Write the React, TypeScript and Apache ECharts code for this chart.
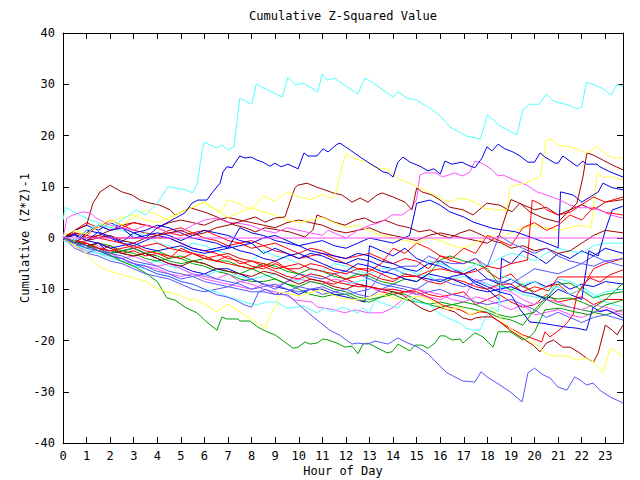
import React, { useEffect, useRef } from "react";
import * as echarts from "echarts";

// ---------- text ----------
const TITLE = "Cumulative Z-Squared Value";
const X_NAME = "Hour of Day";
const Y_NAME = "Cumulative (Z*Z)-1";

// ---------- axes ----------
const X_MIN = 0;
const X_MAX = 23.75;
const X_STEP = 1;
const Y_MIN = -40;
const Y_MAX = 40;
const Y_STEP = 10;

// ---------- colours ----------
const RED = "#ff0000";
const GREEN = "#00a000";
const BLUE = "#0000ee";
const MAGENTA = "#ff50ff";
const CYAN = "#50ffff";
const DARKRED = "#a00000";
const YELLOW = "#ffff40";
const SLATE = "#5555ff";

// ---------- series values: [hour, cumulative value] ----------
const C1 = [[0,0.4],[0.5,-0.5],[1,1.5],[1.5,2.5],[2,2],[2.5,3.5],[3.1,5.5],[3.5,4.5],[4.0,6.8],[4.45,10],[5.2,9.4],[5.5,8.8],[5.7,10.7],[5.9,17.2],[6.0,18.7],[6.5,17.6],[6.75,18.1],[7.0,17.2],[7.25,17.8],[7.5,27.3],[8.0,26.1],[8.2,30.0],[9.3,27.5],[9.54,31.4],[9.84,29.9],[10.2,30.2],[10.8,28.5],[11.0,32.0],[11.2,30.8],[11.5,31.2],[12.5,28.1],[12.8,31.2],[13.1,30.4],[14.0,27.5],[14.2,28.5],[14.6,27.3],[15.0,26.9],[15.6,25.2],[16.0,23.8],[16.4,21.7],[17.1,19.9],[17.7,19.3],[18.0,24.0],[18.5,22.0],[19.25,20.1],[19.5,25.0],[19.8,26.1],[20.2,26.1],[20.5,28.1],[20.8,26.7],[21.4,26.0],[21.8,25.2],[22.0,25.6],[22.2,30.4],[22.65,29.7],[22.9,29.1],[23.25,27.9],[23.5,30.0],[23.75,29.5]];
const C2 = [[0,-0.5],[0.5,-1.5],[1,-2],[1.5,-3],[2,-3.5],[2.5,-4.5],[3,-5.5],[3.5,-6],[4,-7],[4.5,-7.5],[5,-8.5],[5.5,-9],[6,-10],[6.5,-10.5],[7,-11.5],[7.3,-11.9],[7.72,-12.5],[8.2,-13.1],[8.6,-12.5],[9.08,-12.5],[9.5,-13.7],[10.2,-13.3],[10.77,-14.6],[11.1,-13.7],[11.45,-14.4],[11.83,-13.5],[12.51,-14.6],[12.72,-13.7],[13.0,-14.6],[13.23,-12.1],[13.78,-13.1],[14.2,-13.7],[14.42,-12.7],[14.63,-11.5],[15.0,-12.5],[15.56,-13.1],[15.9,-14.6],[16.3,-15.6],[16.84,-16.6],[17.1,-17.6],[17.39,-18.0],[17.68,-18.0],[17.9,-15.6],[18.2,-13.5],[18.45,-14.4],[18.6,-7.4],[19,-8],[19.5,-9],[20,-8.5],[20.5,-10],[21,-9.5],[21.5,-11],[22,-10],[22.5,-11.5],[23,-10.5],[23.75,-10]];
const C3 = [[0,3.5],[0.1,6],[0.4,5.2],[0.7,4.5],[1.15,3.5],[1.5,3],[2,2],[2.5,1.5],[3,0.5],[3.5,1],[4,-1],[4.5,-1.5],[5,-2.5],[5.5,-1],[6,-1.5],[6.5,-2.5],[7,-3],[7.5,-4],[8,-4.5],[8.5,-2.5],[9,-3.5],[9.5,-4],[10,-5],[10.5,-6],[11,-6.5],[11.5,-5],[12,-5.5],[12.5,-6.5],[13,-7],[13.5,-6],[14,-6],[14.5,-7],[15,-7.5],[15.5,-4.5],[16,-5],[16.5,-6],[17,-6.5],[17.5,-5],[18,-5.5],[18.5,-4],[19,-3],[19.5,-3.5],[20,-4.5],[20.5,-3],[21,-2],[21.5,-2.5],[22,-3],[22.5,-1.5],[23,-1],[23.75,-1]];
const C4 = [[0,0],[0.5,-1],[1,-2.5],[1.5,-3],[2,-4],[2.5,-4.5],[3,-5.5],[3.5,-5],[4,-4.5],[4.5,-5.5],[5,-6],[5.5,-7],[6,-7.5],[6.5,-6.5],[7,-6.5],[7.5,-7.5],[8,-8],[8.5,-7.5],[9,-7],[9.5,-8],[10,-8.5],[10.5,-7],[11,-7.5],[11.5,-8.5],[12,-9],[12.5,-8.5],[13,-8],[13.5,-9],[14,-9.5],[14.5,-6],[15,-7],[15.5,-7.5],[16,-8.5],[16.5,-8],[17,-7.5],[17.5,-8.5],[18,-9],[18.5,-9.5],[19,-10],[19.5,-11],[20,-11.5],[20.5,-12],[21,-8],[21.5,-8.5],[22,-9.5],[22.5,-11],[23,-12.5],[23.75,-13.5]];

const B1 = [[0,-0.3],[0.5,0.8],[1,-0.5],[1.5,1.2],[2,0.3],[2.5,-0.8],[3,1],[3.5,0],[4,2],[4.5,3.2],[5.17,4.9],[5.47,6.8],[5.72,7.4],[6.1,7.4],[6.32,8.8],[6.66,10.7],[6.79,12.9],[6.95,13.9],[7.17,13.7],[7.29,14.6],[7.5,16.0],[7.72,15.6],[7.97,15.8],[8.23,15.2],[8.48,14.8],[8.78,14.0],[8.99,14.6],[9.25,13.9],[9.54,14.4],[9.97,13.5],[10.22,16.6],[10.39,16.0],[10.77,16.0],[11.03,17.4],[11.24,16.8],[11.62,18.3],[11.75,18.5],[12.17,17.2],[12.6,15.8],[12.93,14.8],[13.32,13.7],[13.57,12.9],[13.78,12.7],[14.0,11.9],[14.2,14.8],[14.42,15.8],[14.72,14.8],[15.14,14.0],[15.48,13.1],[15.73,13.5],[16.0,12.5],[16.2,15.0],[16.5,14.4],[16.92,14.8],[17.18,14.2],[17.47,13.7],[17.77,15.6],[17.98,17.8],[18.19,17.0],[18.45,18.3],[18.74,17.4],[19.08,16.8],[19.38,16.0],[19.72,14.8],[20.0,14.8],[20.23,16.6],[20.44,15.8],[20.87,14.6],[21.0,14.6],[21.2,16.0],[21.5,15.0],[21.8,14.0],[22.05,15.0],[22.2,14.4],[22.65,14.4],[22.77,13.9],[23.2,12.9],[23.75,11.9]];
const B2 = [[0,0],[0.5,-1],[1,1],[1.5,2.5],[2,1.5],[2.5,2],[3,0],[3.5,0.5],[4,1],[4.5,0.5],[5,-0.5],[5.5,0.5],[6,1.5],[6.5,1],[7,0.5],[7.5,-0.5],[8,-1],[8.5,0],[9,0.5],[9.5,-0.5],[10,-1.5],[10.5,-1],[11,-0.5],[11.5,-1.5],[12,-2],[12.5,-1],[13,0],[13.5,-0.5],[14,-1],[14.7,0.5],[15,6.8],[15.56,7.4],[16,6.4],[16.4,5.1],[17,4.1],[17.4,3.1],[17.8,2.5],[18.2,1.9],[18.6,1.6],[19.2,1.2],[19.8,0.2],[20.4,-0.8],[21,-1.9],[21.1,9.0],[21.63,8.4],[22,7.0],[22.35,8.0],[22.7,9.0],[22.9,10.7],[23.3,9.8],[23.75,9.4]];
const B3 = [[0,0],[0.5,-0.5],[1,-1.5],[1.5,-1],[2,-3],[2.5,-2.5],[3,-2],[3.5,-3],[4,-4],[4.5,-5],[5,-5.5],[5.5,-6.5],[6,-7],[6.5,-6],[7,-6],[7.5,-7],[8,-8],[8.5,-9],[9,-9.5],[9.5,-10],[10,-11],[10.5,-10],[11,-10],[11.5,-11],[12,-11.5],[12.4,-12],[12.8,-12.5],[13.0,-1.5],[13.5,-2.5],[14,-3.5],[14.5,-2],[15,-4],[15.56,-5],[16,-4.5],[16.5,-6],[17,-7],[17.5,-6],[18,-8],[18.5,-9],[19,-8],[19.5,-9.5],[20,-8.5],[20.5,-9.5],[21,-8.5],[21.5,-10],[22,-9],[22.5,-9.5],[23,-8.5],[23.75,-9]];
const B4 = [[0,0],[0.5,0.5],[1,-0.5],[1.5,-1],[2,-2],[2.5,-1.5],[3,-1],[3.5,-2],[4,-2.5],[4.5,-2],[5,-1.5],[5.5,-2.5],[6,-3],[6.5,-2.5],[7,-2],[7.5,2],[8,1],[8.5,0.5],[9,-0.5],[9.5,-1],[10,-1.5],[10.5,-2.5],[11,-3],[11.5,-3.5],[12,-4],[12.5,-3],[13,-3.5],[13.5,-4.5],[14,-5],[14.5,-6],[15,-6.5],[15.5,-5],[16,-5.5],[16.5,-6.5],[17,-7],[17.5,-8.5],[18,-9.5],[18.5,-10.5],[19,-11.1],[19.4,-14],[19.8,-16.4],[20.3,-16.6],[20.8,-17.0],[21.37,-17.4],[21.8,-17.6],[22.2,-18.0],[22.35,-15.6],[22.48,-13.5],[22.77,-14.4],[23.07,-14.0],[23.5,-15.0],[23.75,-15.6]];
const B5 = [[0,0],[0.5,1.5],[1,2.5],[1.5,1.5],[2,3],[2.5,2],[3,1],[3.5,1.5],[4,2.5],[4.5,2],[5,1],[5.5,0],[6,-0.5],[6.5,-1],[7,-2],[7.5,-1.5],[8,-1],[8.5,-3],[9,-2],[9.5,-3],[10,-4],[10.5,-3],[11,-3.5],[11.5,-4.5],[12,-5],[12.5,-4],[13,-4.5],[13.5,-5.5],[14,-6],[14.5,-7],[15,-7.5],[15.5,-8],[16,-8.5],[16.5,-7.5],[17,-7],[17.5,-9],[18,-10],[18.5,-12],[18.6,-4],[19,-5],[19.5,-2.5],[20,-3.5],[20.5,-5],[21,-3],[21.5,-4],[22,-2.5],[22.5,-3.5],[23,-2],[23.75,-3]];
const B6 = [[0,0],[0.5,-0.5],[1,1.5],[1.5,1],[2,0],[2.5,-1],[3,-1.5],[3.5,-0.5],[4,0.5],[4.5,0],[5,-1],[5.5,-2],[6,-2.5],[6.5,-2],[7,-1.5],[7.5,-2.5],[8,-3],[8.5,-4],[9,-4.5],[9.5,-3.5],[10,-3],[10.5,-4],[11,-5],[11.5,-6],[12,-6.5],[12.5,-5],[13,-5.5],[13.5,-6.5],[14,-7],[14.5,-8],[15,-8.5],[15.5,-7],[16,-7.5],[16.5,-8],[17,-9],[17.5,-10],[18,-10.5],[18.5,-10],[19,-9.5],[19.5,-10.5],[20,-11],[20.5,-12],[21,-10],[21.5,-11],[22,-12],[22.3,-2.5],[22.7,-3.5],[23,1.5],[23.3,5.5],[23.75,6.2]];

const Y1 = [[0,0.5],[0.5,1.5],[1,0.8],[1.5,2.5],[2,3.5],[2.5,2.5],[3,4],[3.5,5.5],[4,4.5],[4.5,3.5],[5,5],[5.5,6.0],[5.94,7.0],[6.32,5.9],[6.7,5.1],[7,7.5],[7.5,6.6],[8,5.5],[8.5,8.2],[9,7.2],[9.5,9.0],[10,8.0],[10.5,7.5],[11,8.5],[11.4,7.8],[11.6,9.0],[11.75,12.5],[12.0,16.6],[12.3,15.6],[12.9,14.8],[13.15,13.9],[13.44,13.5],[13.74,13.5],[14.0,12.5],[14.25,11.5],[14.72,10.7],[15.14,9.75],[15.56,8.8],[16.0,7.8],[16.41,7.0],[16.84,7.8],[17.26,7.4],[17.68,6.4],[17.81,5.9],[18.3,5.5],[18.83,5.5],[18.96,10.0],[19.6,10.7],[20.23,11.9],[20.44,17.2],[20.48,19.1],[20.7,19.3],[21.0,18.1],[21.5,17.8],[22.22,16.6],[22.65,17.8],[23.07,16.2],[23.32,15.6],[23.75,15.6]];
const Y2 = [[0,0],[0.5,-1.5],[1,-3],[1.5,-5.5],[2,-6.5],[2.5,-7.2],[3,-7.8],[3.5,-8.4],[4,-9.8],[4.5,-10.7],[4.96,-11.1],[5.3,-12.1],[5.51,-11.9],[5.94,-12.7],[6.53,-14.4],[7.0,-12.9],[7.38,-14.0],[7.8,-15.4],[8.0,-15.8],[8.57,-17.6],[8.69,-16.0],[9.08,-12.7],[9.2,-10.5],[10.05,-11.3],[10.9,-10.1],[11.75,-11.7],[12.6,-12.1],[13.44,-10.9],[14.3,-12.1],[15.14,-11.3],[15.56,-12.1],[16.1,-13.5],[16.33,-14.0],[16.84,-13.5],[17.26,-15.0],[17.77,-14.0],[17.98,-13.1],[18.24,-14.0],[18.96,-17.6],[19.5,-19.3],[20.1,-20.9],[20.44,-22.4],[20.74,-23.0],[21.37,-23.0],[21.8,-23.8],[22.22,-23.4],[22.56,-24.4],[22.9,-26.3],[23.2,-21.5],[23.5,-22.2],[23.75,-23.2]];
const Y3 = [[0,0],[0.5,0.5],[1,1],[1.5,2],[2,3],[2.5,4],[3,4.5],[3.5,3.5],[4,3],[4.5,4],[5,5],[5.5,6],[6,7],[6.4,5.8],[7,4],[7.5,5],[8,6],[8.5,5],[9,4.5],[9.5,3.5],[10,3],[10.5,3.5],[11,4],[11.5,3],[12,2],[12.5,2.5],[13,1.5],[13.5,0.5],[14,0],[14.5,-0.5],[15,-1],[15.5,0],[16,-0.5],[16.5,-1.5],[17,-2],[17.5,-1],[18,0.5],[18.5,0],[19,1],[19.5,2],[20,2.5],[20.5,2],[21,1.5],[21.5,2],[22,2.5],[22.4,2],[22.65,12.7],[22.9,11.9],[23.3,11.9],[23.75,11.3]];

const M0 = [[0,0],[23.75,0]];
const M1 = [[0,0],[0.17,3.9],[0.42,4.5],[0.85,5.1],[1.15,4.9],[1.4,3.9],[2,2.5],[2.5,2],[3,1.5],[3.5,2.5],[4,2],[4.5,1],[5,1.2],[5.5,2.5],[6,3.5],[6.53,3.9],[6.95,3.1],[7.4,2.9],[7.93,2.5],[8.5,1.5],[9,1],[9.5,2],[10,1.5],[10.5,1],[11,0.5],[11.24,1.5],[11.6,0.8],[12,0],[12.5,1.5],[13,2.5],[13.36,2.9],[13.65,3.5],[13.95,4.5],[14.38,4.5],[14.8,5.9],[15.0,7.6],[15.14,12.3],[15.35,12.7],[15.8,12.7],[16.1,11.9],[16.6,12.7],[16.96,12.1],[17.26,12.9],[17.47,15.0],[17.68,14.8],[17.9,14.2],[18.2,13.3],[18.45,12.1],[18.66,12.3],[19.04,11.5],[19.68,10.3],[20.1,9.0],[20.5,8.4],[21.08,7.4],[21.5,6.4],[21.93,5.9],[22.35,5.9],[22.77,5.5],[23.2,4.5],[23.75,3.9]];
const M2 = [[0,0],[0.5,-1],[1,-2],[1.5,-1.5],[2,-3],[2.5,-4],[3,-3.5],[3.5,-4.5],[4,-5.5],[4.5,-5],[5,-6],[5.5,-7],[6,-7.5],[6.5,-8],[7,-7],[7.5,-8.5],[8,-9],[8.5,-10],[9,-10.5],[9.41,-11.1],[9.84,-12.1],[10.56,-12.5],[10.8,-13.5],[11.4,-13.9],[11.96,-14.6],[12.38,-14.0],[12.93,-14.6],[13.53,-14.6],[13.95,-13.7],[14.38,-12.1],[14.63,-11.3],[15,-10],[15.5,-10.5],[16,-11],[16.5,-12],[17,-12.5],[17.5,-11.5],[18,-12],[18.5,-13],[19,-14],[19.5,-13],[20,-15],[20.5,-14.5],[21,-14],[21.5,-15],[22,-15.5],[22.5,-14.5],[23,-14],[23.75,-15]];
const M3 = [[0,0],[0.5,-1.5],[1,-2.5],[1.5,-3],[2,-3.5],[2.5,-4.5],[3,-5],[3.5,-5.5],[4,-6],[4.5,-7],[5,-7.5],[5.5,-7],[6,-8],[6.5,-8.5],[7,-9],[7.5,-9.5],[8,-10],[8.5,-9],[9,-9.5],[9.5,-8.5],[10,-8],[10.5,-8.5],[11,-9],[11.5,-8],[12,-8.5],[12.5,-9],[13,-9.5],[13.5,-10.5],[14,-10],[14.5,-10.5],[15,-11],[15.5,-11.5],[16,-12],[16.5,-11],[17,-11.5],[17.5,-8],[18,-9],[18.5,-10],[19,-10.5],[19.5,-12],[20,-13],[20.5,-12],[21,-12.5],[21.5,-13.5],[22,-14],[22.5,-13],[23,-13.5],[23.75,-14.5]];

const DR1 = [[0,0],[0.5,1.5],[1,2.5],[1.27,6.8],[1.44,8.0],[1.57,9.0],[2.0,10.3],[2.2,9.75],[2.5,9.0],[2.93,8.4],[3.27,7.4],[3.69,6.8],[4.11,6.4],[4.54,5.5],[4.75,4.5],[4.96,4.9],[5.39,5.9],[5.68,5.5],[6.1,4.9],[6.53,4.1],[6.8,3.5],[7.3,2.5],[7.73,2.0],[8.16,1.2],[8.57,2.0],[9.1,1.6],[9.6,1.2],[10.26,0.2],[10.6,1.6],[10.77,4.5],[11.1,3.9],[11.5,3.1],[11.96,2.5],[12.4,3.5],[12.8,3.9],[13.23,2.9],[13.65,3.5],[14.2,2.5],[14.7,2.0],[15.1,1.2],[15.56,1.6],[16,0.6],[16.4,0],[16.84,1.0],[17.26,1.6],[17.8,0.5],[18.2,-0.5],[18.6,-1],[19,-2],[19.5,-1.5],[20,-2.5],[20.5,-2],[21,-3],[21.5,-2.5],[22,-1],[22.5,0.5],[23,1.5],[23.75,1]];
const DR2 = [[0,0],[0.5,0.8],[1,-0.5],[1.5,0],[2,0.5],[2.5,-0.5],[3,-1],[3.5,0],[4,0.5],[4.5,1],[5,1.5],[5.5,0.5],[6,1],[6.5,2],[7,2.5],[7.73,3.5],[8.16,4.1],[8.57,3.1],[9.0,3.9],[9.41,4.1],[9.83,9.75],[9.95,10.3],[10.35,10.7],[10.77,9.9],[11.1,9.4],[11.45,8.8],[11.83,8.4],[12.26,7.0],[12.6,7.8],[12.93,7.0],[13.32,8.4],[13.53,8.8],[14.0,8.0],[14.5,7.0],[14.8,5.5],[15.0,9.75],[15.22,9.0],[15.65,8.4],[15.99,7.4],[16.41,6.0],[16.96,5.5],[17.39,4.5],[17.98,6.8],[18.53,6.4],[19.04,5.1],[19.38,6.8],[19.8,5.1],[20.36,3.9],[21.0,3.1],[21.37,4.9],[21.8,6.8],[22.05,11.9],[22.22,16.6],[22.48,16.2],[22.9,15.2],[23.32,14.2],[23.75,13.3]];
const DR3 = [[0,0],[0.5,-0.5],[1,-1.5],[1.5,-1],[2,-2],[2.5,-3],[3,-3.5],[3.5,-3],[4,-4],[4.5,-5],[5,-5.5],[5.5,-4.5],[6,-5],[6.5,-6],[7,-6.5],[7.5,-7],[8,-7.5],[8.5,-6.5],[9,-7],[9.5,-8],[10,-9],[10.5,-8],[11,-8.5],[11.5,-9.5],[12,-10],[12.5,-9],[13,-9.5],[13.5,-10],[14,-10.5],[14.4,-11.1],[14.8,-12.5],[15.2,-13.7],[15.56,-14.4],[16.0,-13.5],[16.3,-14.0],[16.6,-14.4],[16.96,-15.6],[17.3,-16.0],[17.5,-15.6],[17.8,-15.4],[18.2,-15.4],[18.53,-16.4],[18.96,-18.0],[19.47,-19.5],[19.93,-20.9],[20.23,-22.2],[20.5,-20.5],[20.8,-19.9],[21.2,-21.3],[21.5,-21.3],[21.84,-22.2],[22.2,-23.4],[22.5,-24.2],[22.7,-22.4],[23.0,-17.0],[23.3,-18.0],[23.5,-18.9],[23.75,-17.0]];
const DR4 = [[0,0],[0.5,1],[1,0],[1.5,0.5],[2,1.5],[2.5,2.5],[3,3],[3.5,2.5],[4,2],[4.5,3],[5,3.5],[5.5,3],[6,2.5],[6.5,3.5],[7,4],[7.5,3.5],[8,3],[8.5,2.5],[9,2],[9.5,3],[10,3.5],[10.5,3],[11,2.5],[11.5,1.5],[12,1],[12.5,1.5],[13,2],[13.5,1],[14,0.5],[14.5,0],[15,-0.5],[15.5,0.5],[16,1],[16.5,0.5],[17,0],[17.5,-0.5],[18,-1],[18.5,0.5],[19,7.5],[19.5,6.5],[20,5.5],[20.5,6],[21,4.5],[21.5,5.5],[22,6.5],[22.5,5.5],[23,7],[23.75,7.5]];

const R1 = [[0,0],[0.5,-0.5],[1,-1],[1.5,-2],[2,-2.5],[2.5,-2],[3,-1.5],[3.5,-2.5],[4,-3],[4.5,-3.5],[5,-4],[5.5,-3],[6,-3.5],[6.5,-4.5],[7,-5],[7.5,-5.5],[8,-6],[8.5,-5.5],[9,-6.5],[9.5,-7.5],[10,-8],[10.5,-7],[11,-7.5],[11.5,-8.5],[12,-9],[12.5,-9.5],[13,-9.5],[13.5,-10],[14,-10],[14.5,-10.5],[15,-10.5],[15.56,-11.7],[16.1,-13.1],[16.4,-13.5],[16.84,-14.0],[17.26,-15.0],[17.68,-14.4],[18.0,-14.6],[18.4,-16.0],[18.96,-17.6],[19.5,-18.9],[20.1,-19.9],[20.3,-20.3],[20.44,-18.3],[20.65,-19.3],[20.95,-18.3],[21.2,-17.4],[21.37,-16.6],[21.63,-15.0],[21.8,-11.1],[22.05,-9.2],[22.35,-7.8],[22.77,-8.6],[23.2,-7.2],[23.75,-6.2]];
const R2 = [[0,0],[0.5,1],[1,0.5],[1.5,2.5],[2,1.5],[2.5,2],[3,3],[3.5,2.5],[4,2],[4.5,1],[5,0.5],[5.5,1],[6,1.5],[6.5,0.5],[7,-0.5],[7.5,-1],[8,-2],[8.5,-1.5],[9,-1],[9.5,-2],[10,-3],[10.5,-2],[11,-2.5],[11.5,-3.5],[12,-4],[12.5,-3.5],[13,-3],[13.5,-4],[14,-5],[14.5,-4],[15,-4.5],[15.5,-6],[16,-3.5],[16.5,-4],[17,-2],[17.5,-3],[18,0.5],[18.5,-0.5],[19,-1.5],[19.5,2],[20,3],[20.5,1.5],[21,2.5],[21.5,4.5],[22,3.5],[22.5,6],[23,5],[23.75,4.5]];
const R3 = [[0,0],[0.5,-1],[1,0.5],[1.5,0],[2,-0.5],[2.5,-1],[3,-2],[3.5,-1.5],[4,-1],[4.5,-2],[5,-2.5],[5.5,-3],[6,-4],[6.5,-3.5],[7,-3],[7.5,-4],[8,-4.5],[8.5,-5],[9,-6],[9.5,-5.5],[10,-5],[10.5,-6],[11,-6.5],[11.5,-7],[12,-8],[12.5,-7.5],[13,-7],[13.5,-8],[14,-8.5],[14.5,-7],[15,-7.5],[15.5,-6.5],[16,-6],[16.5,-6.5],[17,-7],[17.5,-6.5],[18,-5.5],[18.5,-6],[19,-5],[19.7,-4.3],[19.9,7.4],[20.3,6.5],[20.5,5.5],[21,4.5],[21.5,5],[22,6.5],[22.5,8],[23,7],[23.75,8]];
const R4 = [[0,0],[0.5,-1],[1,-0.5],[1.5,0.5],[2,0],[4.5,0],[5,-1],[5.5,-2],[6,-2.5],[6.5,-3],[7,-4],[7.5,-4.5],[8,-5.5],[8.5,-6],[9,-5],[9.5,-6],[10,-7],[10.5,-8],[11,-8.5],[11.5,-9],[12,-8],[12.5,-9],[13,-9.5],[13.5,-10.5],[14,-11],[14.5,-10.5],[15,-10],[15.5,-11],[16,-11.5],[16.5,-11],[17,-10.5],[17.5,-13],[18,-12],[18.5,-11],[19,-12.5],[19.5,-13.5],[20,-13],[20.5,-11],[21,-12.5],[21.5,-12],[22,-11.5],[22.5,-13],[23,-12],[23.75,-12]];
const R5 = [[0,0],[0.5,1.5],[1,3],[1.5,2],[2,3.5],[2.5,2.5],[3,1.5],[3.5,1],[4,0.5],[4.5,1.5],[5,2],[5.5,1],[6,0],[6.5,-0.5],[7,-1.5],[7.5,-1],[8,-0.5],[8.5,-1.5],[9,-2.5],[9.5,-3],[10,-4],[10.5,-3.5],[11,-3],[11.5,-4],[12,-5],[12.5,-6],[13,-6.5],[13.5,-5],[14,-2],[14.5,-3],[15,-1],[15.5,-2],[16,-3.5],[16.5,-4.5],[17,-5],[17.5,-4],[18,-6.5],[18.5,-8],[19,-7],[19.5,-9.5],[20,-10.5],[20.5,-9.5],[21,-9],[21.5,-11],[22,-10],[22.5,-6],[23,-5],[23.75,-4]];
const R6 = [[0,0],[0.5,-1.5],[1,-1],[1.5,-2.5],[2,-1.5],[2.5,-3],[3,-2.5],[3.5,-3.5],[4,-3],[4.5,-4],[5,-2],[5.5,-3],[6,-4],[6.5,-4.5],[7,-3.5],[7.5,-5],[8,-4.5],[8.5,-5.5],[9,-4.5],[9.5,-6],[10,-6],[10.5,-5],[11,-5.5],[11.5,-6.5],[12,-7],[12.5,-6],[13,-6],[13.5,-7],[14,-8],[14.5,-7.5],[15,-7.5],[15.5,-8.5],[16,-9],[16.5,-8],[17,-8.5],[17.5,-9.5],[18,-10],[18.5,-9],[19,-9],[19.5,-10.5],[20,-9.5],[20.6,-10.3],[21.0,-7.6],[23.75,-7.6]];

const G1 = [[0,0],[0.5,-0.8],[1,-1.5],[1.5,-2.5],[2,-3.3],[2.5,-4.6],[3,-5.5],[3.5,-6.8],[4,-8.5],[4.33,-11.1],[4.41,-11.7],[4.75,-12.1],[5.17,-13.5],[5.68,-14.6],[6.1,-16.4],[6.53,-18.0],[6.74,-15.4],[6.95,-15.8],[7.42,-15.8],[7.5,-16.2],[7.93,-16.2],[8.27,-17.4],[8.65,-18.3],[8.99,-18.9],[9.41,-20.3],[9.75,-21.5],[9.97,-21.3],[10.26,-20.3],[10.47,-20.7],[10.77,-20.5],[11.03,-19.7],[11.24,-19.9],[11.62,-20.5],[11.96,-21.3],[12.26,-21.1],[12.51,-22.6],[12.72,-20.7],[12.93,-20.5],[13.36,-21.5],[13.74,-22.4],[13.95,-22.2],[14.21,-20.7],[14.42,-21.3],[14.72,-22.0],[14.93,-20.9],[15.22,-20.9],[15.48,-21.5],[15.78,-20.5],[15.99,-19.1],[16.2,-19.1],[16.5,-19.9],[16.84,-19.7],[16.96,-20.5],[17.47,-18.5],[17.81,-19.3],[18.24,-21.3],[18.45,-18.3],[18.96,-18.3],[19.3,-19.3],[19.5,-19.9],[19.8,-19.3],[20.0,-18.3],[20.44,-14.0],[21.08,-13.7],[21.7,-14.4],[22.35,-15.0],[23.0,-13.1],[23.75,-12.1]];
const G2 = [[0,0],[0.5,-1],[1,-2],[1.5,-1],[2,-1.5],[2.5,-2.5],[3,-3],[3.5,-4],[4,-4.5],[4.5,-4],[5,-3.5],[5.5,-4.5],[6,-5],[6.5,-6],[7,-6.5],[7.5,-7],[8,-6],[8.5,-7],[9,-8],[9.5,-9],[10,-9.5],[10.5,-8.5],[11,-9],[11.5,-10],[12,-10.5],[12.5,-11.5],[13,-12],[13.5,-11.5],[14,-11],[14.5,-12],[15,-12.5],[15.56,-12.9],[16,-12.5],[16.5,-13],[17,-13.5],[17.5,-14],[18,-14.5],[18.5,-15.5],[19,-16],[19.5,-17],[20,-14],[20.5,-11.5],[21,-11.9],[21.5,-11.7],[22,-12.5],[22.5,-13.5],[23,-12.1],[23.75,-8.8]];
const G3 = [[0,0],[0.5,-0.5],[1,-1.5],[1.5,-2],[2,-3],[2.5,-2.5],[3,-2],[3.5,-3],[4,-3.5],[4.5,-4.5],[5,-5],[5.5,-4.5],[6,-4],[6.5,-4.5],[7,-4.5],[7.5,-5.5],[8,-6],[8.5,-5],[9,-5.5],[9.5,-6.5],[10,-7],[10.5,-6],[11,-6.5],[11.5,-7.5],[12,-8],[12.5,-7],[13,-7.5],[13.5,-8.5],[14,-9],[14.5,-8],[15,-8.5],[15.56,-6.8],[16,-4.3],[16.4,-3.5],[17,-4.5],[17.5,-5],[18,-6],[18.45,-8.8],[19,-10.2],[19.5,-9],[20,-11],[20.5,-11.7],[21,-9],[21.5,-8.8],[22,-10.2],[22.5,-11.7],[23,-11],[23.75,-10.5]];
const G4 = [[0,0],[0.5,-0.5],[1,-1],[1.5,-2],[2,-2.5],[2.5,-3],[3,-3.5],[3.5,-3],[4,-2.5],[4.5,-3.5],[5,-4],[5.5,-5],[6,-5.5],[6.5,-6.5],[7,-7],[7.5,-8],[8,-8.5],[8.5,-8.5],[9,-8],[9.5,-9],[10,-10],[10.5,-11],[11,-11.5],[11.5,-11],[12,-11],[12.5,-12],[13,-12.5],[13.5,-11.5],[14,-10.5],[14.5,-11],[15,-12],[15.5,-13],[16,-13.5],[16.5,-13],[17,-12.5],[17.5,-13],[18,-14],[18.5,-15],[19,-15.5],[19.5,-15],[20,-14.5],[20.5,-12],[21,-13],[21.5,-13.5],[22,-14],[22.5,-14.5],[23,-15],[23.75,-14]];

const LB1 = [[0,0],[0.5,-1],[1,-1.5],[1.5,-2.5],[2,-3],[2.5,-3.5],[3,-4.5],[3.5,-5],[4,-5.5],[4.5,-6.5],[5,-7],[5.5,-7.5],[6,-8.5],[6.5,-9],[7,-9.5],[7.5,-10],[8,-10.5],[8.5,-10.5],[9,-11],[9.54,-11.1],[10.0,-13],[10.56,-15.2],[11.32,-18.0],[11.75,-19.0],[12.25,-20.7],[12.46,-20.5],[12.93,-20.7],[13.23,-20.1],[13.78,-20.7],[14.2,-19.5],[14.63,-20.5],[15.05,-21.3],[15.48,-22.6],[15.86,-24.4],[16.28,-26.3],[16.7,-27.3],[16.96,-27.9],[17.47,-28.1],[17.73,-26.1],[17.98,-27.1],[18.4,-28.3],[18.96,-30.0],[19.47,-32.0],[19.72,-26.3],[20.0,-25.4],[20.36,-26.7],[20.65,-27.3],[21.0,-29.1],[21.37,-29.7],[21.7,-27.1],[21.93,-27.7],[22.2,-28.7],[22.48,-28.3],[22.77,-29.7],[23.2,-31.0],[23.75,-32.2]];
const LB2 = [[0,0],[0.5,-1],[1,-2],[1.5,-2.5],[2,-3.5],[2.5,-4],[3,-5],[3.5,-6],[4,-7],[4.5,-7.5],[5,-8.5],[5.5,-9],[6,-10],[6.53,-11.1],[6.95,-11.5],[7.3,-12.1],[7.72,-13.1],[8.0,-13.5],[8.3,-10.5],[8.6,-10],[9,-11],[9.5,-10.5],[10,-9.5],[10.5,-10],[11,-11],[11.5,-10.5],[12,-10],[12.5,-11],[13,-11.5],[13.5,-10],[14,-9],[14.5,-9.5],[15,-10],[15.5,-8.5],[16,-8],[16.5,-9],[17,-9.5],[17.5,-8.5],[18,-8],[18.5,-8.5],[19,-9],[19.5,-7.5],[20,-6],[20.5,-6.5],[21,-7],[21.5,-6],[22,-5],[22.5,-5.5],[23,-4.5],[23.75,-4]];
const LB3 = [[0,0],[0.5,-1.5],[1,-3],[1.5,-2],[2,-3.5],[2.5,-4],[3,-5],[3.5,-5.5],[4,-6.5],[4.5,-7],[5,-8],[5.5,-7.5],[6,-7],[6.5,-8],[7,-8.5],[7.5,-9],[8,-10],[8.5,-9.5],[9,-9],[9.5,-10],[10,-10.5],[10.5,-10],[11,-9.5],[11.5,-10.5],[12,-11],[12.5,-10.5],[13,-10],[13.5,-7],[14,-6],[14.5,-5.5],[15,-5.5],[15.5,-3.5],[16,-4.5],[16.5,-5],[17,-5],[17.5,-4],[18,-5.5],[18.5,0.5],[19,-1],[19.5,-2],[20,-3],[20.5,-2],[21,-3.5],[21.5,-4.5],[22,-5],[22.5,-3.5],[23,-4.5],[23.75,-5.5]];
const LB4 = [[0,0],[0.5,-2],[1,-3],[1.5,-3.5],[2,-4.5],[2.5,-5],[3,-6],[3.5,-7],[4,-7.5],[4.5,-8],[5,-9],[5.5,-10],[6,-10.5],[6.5,-10],[7,-9.5],[7.5,-8.5],[8,-8],[8.5,-9],[9,-10],[9.5,-8.5],[10,-7],[10.5,-7.5],[11,-8],[11.5,-7],[12,-6.5],[12.5,-7],[13,-8],[13.5,-9],[14,-9.5],[14.5,-10],[15,-11],[15.5,-10.5],[16,-10],[16.5,-11],[17,-11.5],[17.5,-12.5],[18,-13],[18.5,-12.5],[19,-12],[19.5,-13],[20,-14],[20.5,-15.5],[21,-14.5],[21.5,-15.5],[22,-16.5],[22.5,-15.5],[23,-15],[23.75,-16]];

const SERIES: { color: string; data: number[][] }[] = [
  { color: RED, data: R4 },
  { color: GREEN, data: G4 },
  { color: BLUE, data: B3 },
  { color: MAGENTA, data: M3 },
  { color: CYAN, data: C4 },
  { color: DARKRED, data: DR4 },
  { color: SLATE, data: LB4 },
  { color: RED, data: R5 },
  { color: GREEN, data: G3 },
  { color: BLUE, data: B5 },
  { color: MAGENTA, data: M2 },
  { color: CYAN, data: C3 },
  { color: DARKRED, data: DR1 },
  { color: YELLOW, data: Y3 },
  { color: SLATE, data: LB3 },
  { color: RED, data: R6 },
  { color: GREEN, data: G2 },
  { color: BLUE, data: B6 },
  { color: CYAN, data: C2 },
  { color: DARKRED, data: DR3 },
  { color: SLATE, data: LB2 },
  { color: RED, data: R2 },
  { color: BLUE, data: B4 },
  { color: RED, data: R3 },
  { color: BLUE, data: B2 },
  { color: RED, data: R1 },
  { color: GREEN, data: G1 },
  { color: YELLOW, data: Y2 },
  { color: SLATE, data: LB1 },
  { color: MAGENTA, data: M1 },
  { color: DARKRED, data: DR2 },
  { color: YELLOW, data: Y1 },
  { color: BLUE, data: B1 },
  { color: CYAN, data: C1 },
  { color: MAGENTA, data: M0 },
];

const FONT = "DejaVu Sans Mono";

function axisCommon(showLabels: boolean, isX: boolean) {
  return {
    axisLine: { show: true, onZero: false, lineStyle: { color: "#000", width: 1 } },
    axisTick: { show: true, inside: true, length: 6, lineStyle: { color: "#000", width: 1 } },
    splitLine: { show: false },
    axisLabel: {
      show: showLabels,
      color: "#000",
      fontFamily: FONT,
      fontSize: 12,
      margin: isX ? 7 : 8,
      showMaxLabel: !isX,
      formatter: (v: number) => (Number.isInteger(v) ? String(v) : ""),
    },
  };
}

export default function App() {
  const ref = useRef<HTMLDivElement>(null);
  useEffect(() => {
    if (!ref.current) return;
    const chart = echarts.init(ref.current, null, { renderer: "svg" });
    const xBase = { type: "value", min: X_MIN, max: X_MAX, interval: X_STEP };
    const yBase = { type: "value", min: Y_MIN, max: Y_MAX, interval: Y_STEP };
    chart.setOption({
      animation: false,
      backgroundColor: "#fff",
      grid: { left: 63, top: 33, width: 560, height: 410, containLabel: false },
      xAxis: [
        { ...xBase, position: "bottom", ...axisCommon(true, true) },
        { ...xBase, position: "top", ...axisCommon(false, true) },
      ],
      yAxis: [
        { ...yBase, position: "left", ...axisCommon(true, false) },
        { ...yBase, position: "right", ...axisCommon(false, false) },
      ],
      graphic: [
        {
          type: "text",
          x: 343,
          y: 16,
          style: { text: TITLE, fill: "#000", font: `12px '${FONT}'`, textAlign: "center", textVerticalAlign: "middle" },
        },
        {
          type: "text",
          x: 343,
          y: 471,
          style: { text: X_NAME, fill: "#000", font: `12px '${FONT}'`, textAlign: "center", textVerticalAlign: "middle" },
        },
        {
          type: "text",
          x: 25,
          y: 238,
          rotation: Math.PI / 2,
          style: { text: Y_NAME, fill: "#000", font: `12px '${FONT}'`, textAlign: "center", textVerticalAlign: "middle" },
        },
      ],
      series: SERIES.map((s, i) => ({
        type: "line",
        xAxisIndex: 0,
        yAxisIndex: 0,
        data: s.data,
        showSymbol: false,
        symbol: "none",
        silent: true,
        z: 2 + i * 0.01,
        lineStyle: { color: s.color, width: 1 },
        itemStyle: { color: s.color },
      })),
    });
    return () => chart.dispose();
  }, []);
  return (
    <div
      ref={ref}
      style={{ position: "fixed", left: 0, top: 0, width: 640, height: 480, background: "#fff" }}
    />
  );
}
